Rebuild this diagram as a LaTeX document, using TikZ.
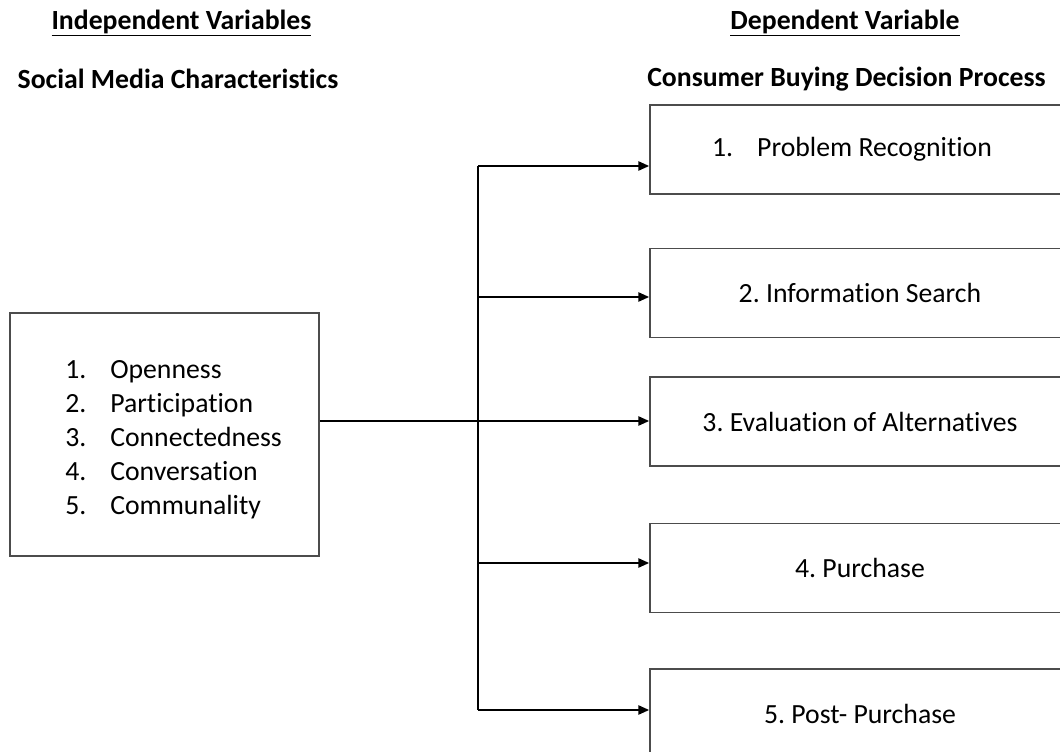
\documentclass[tikz,border=0pt]{standalone}
\usepackage{fontspec}
\setmainfont{Carlito}[Ligatures=NoCommon]
\usetikzlibrary{arrows.meta}
\frenchspacing

\begin{document}
\begin{tikzpicture}[x=0.75pt,y=-0.75pt,
	heading/.style={
		% bold titles above the two columns
		font=\fontsize{20.8}{25.4}\selectfont\bfseries,
		inner sep=0pt
		},
	varbox/.style={
		% The shape:
		rectangle,
		% The border:
		draw=black!70,
		line width=1.4pt,
		% Font
		font=\fontsize{20.8}{25.4}\selectfont,
		inner sep=0pt
		},
	stage/.style={
		varbox,
		minimum width=315pt,
		minimum height=66.75pt
		},
	link/.style={line width=1pt, draw=black},
	feed/.style={link, -{Triangle[length=8pt,width=7pt]}}]

	\clip (0,0) rectangle (1060,752);

	% column titles
	\node (indep) [heading] at (181.5,23) {\underline{Independent Variables}};
	\node (dep) [heading] at (845,23) {\underline{Dependent Variable}};
	\node (social) [heading] at (178,79) {Social Media Characteristics};
	\node (buying) [heading] at (846.5,79) {Consumer Buying Decision Process};

	% independent variables
	\node (traits) [varbox,minimum width=231.75pt,minimum height=182.25pt] at (164.5,434.5) {};
	\node (list) [font=\fontsize{20.8}{25.5}\selectfont,align=left,inner sep=0pt,anchor=west] at (65,439.5) {%
		\makebox[33.75pt][l]{1.}Openness\\
		\makebox[33.75pt][l]{2.}Participation\\
		\makebox[33.75pt][l]{3.}Connectedness\\
		\makebox[33.75pt][l]{4.}Conversation\\
		\makebox[33.75pt][l]{5.}Communality};

	% stages of the buying process
	\node (recognition) [stage] at (860,149.5) {1.\hspace{18pt}Problem Recognition\hspace*{12pt}\mbox{}};
	\node (search) [stage] at (860,293) {2. Information Search};
	\node (evaluation) [stage] at (860,421.5) {3. Evaluation of Alternatives};
	\node (purchase) [stage] at (860,568) {4. Purchase};
	\node (postpurchase) [stage] at (860,713.5) {5. Post- Purchase};

	% the fork
	\coordinate (fork) at (478,421);
	\coordinate (top) at (478,166);
	\coordinate (b2) at (478,297);
	\coordinate (b4) at (478,563);
	\coordinate (bottom) at (478,710);

	\path[link] (traits.east |- fork) edge (fork);
	\path[link] (top) edge (bottom);

	\path (top) edge[feed] (recognition.west |- top);
	\path (b2) edge[feed] (search.west |- b2);
	\path (fork) edge[feed] (evaluation.west |- fork);
	\path (b4) edge[feed] (purchase.west |- b4);
	\path (bottom) edge[feed] (postpurchase.west |- bottom);

\end{tikzpicture}
\end{document}
